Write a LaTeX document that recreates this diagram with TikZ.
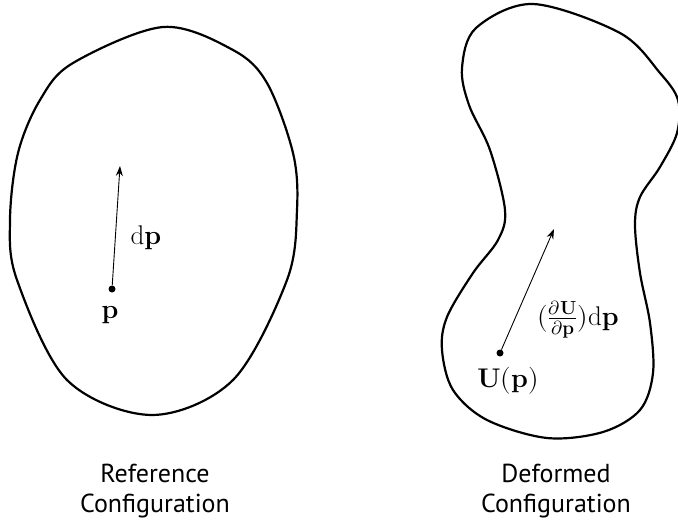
\documentclass[tikz,border=0pt]{standalone}
\usepackage{fontspec}
\usepackage{unicode-math}
\setmathfont{Latin Modern Math}
\setsansfont{PT Sans}
\usetikzlibrary{arrows.meta}
\begin{document}
\begin{tikzpicture}[x=1pt,y=-1pt,
  blob/.style={line width=2.2pt, line join=round},
  vec/.style={line width=0.9pt, -{Stealth[length=10pt,width=7pt]}},
  dotnode/.style={circle, fill=black, inner sep=0pt, minimum size=7pt},
  mathlbl/.style={font=\fontsize{27}{32}\selectfont, inner sep=0pt, anchor=base},
  caption/.style={font=\sffamily\fontsize{26}{30}\selectfont, inner sep=0pt, anchor=base}]
\useasboundingbox (0,0) rectangle (678,524);
% reference blob
\draw[blob] plot[smooth cycle, tension=0.55] coordinates {
  (163,27) (233,50) (267,83) (293,153) (297,210) (287,280) (233,380) (152,415)
  (67,380) (17,280) (10,220) (18,153) (40,100) (73,63)};
% deformed blob
\draw[blob] plot[smooth cycle, tension=0.55] coordinates {
  (533,4) (620,33) (660,73) (678,100) (677,133) (660,167) (640,197) (635,225)
  (640,273) (650,323) (653,373) (640,410) (603,432) (547,438) (487,420) (453,390)
  (442,350) (447,317) (473,273) (498,240) (505,210) (490,150) (469,105) (462,68) (476,28)};
% reference point and vector
\node[dotnode] (p) at (112,289) {};
\coordinate (ptip) at (120,166);
\draw[vec] (p) -- (ptip);
\node[mathlbl] (plbl) at (110,318) {$\mathbf{p}$};
\node[mathlbl] (dplbl) at (146,244) {$\mathrm{d}\mathbf{p}$};
% deformed point and vector
\node[dotnode] (u) at (500,353) {};
\coordinate (utip) at (554,229);
\draw[vec] (u) -- (utip);
\node[mathlbl] (ulbl) at (508,387) {$\mathbf{U}(\mathbf{p})$};
\node[mathlbl] (jlbl) at (578,325) {$(\frac{\partial\mathbf{U}}{\partial\mathbf{p}})\mathrm{d}\mathbf{p}$};
% captions
\node[caption] (c1a) at (155,482) {Reference};
\node[caption] (c1b) at (155,512) {Configuration};
\node[caption] (c2a) at (556,482) {Deformed};
\node[caption] (c2b) at (556,512) {Configuration};
\end{tikzpicture}
\end{document}
